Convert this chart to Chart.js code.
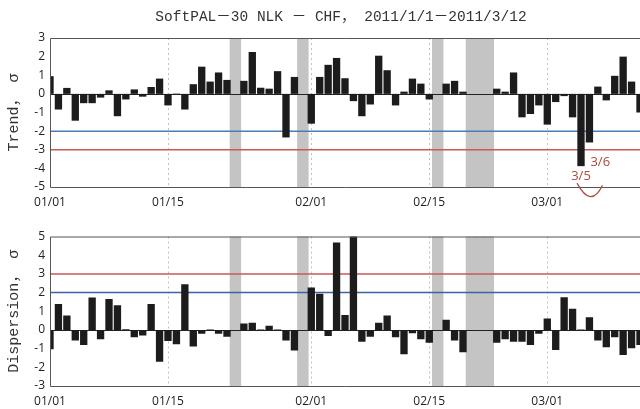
<!DOCTYPE html>
<html lang="en">
<head>
<meta charset="UTF-8">
<title>SoftPAL-30 NLK - CHF</title>
<script src="https://cdn.jsdelivr.net/npm/chart.js"></script>
<style>
    html, body { margin: 0; padding: 0; background: #fff; overflow: hidden; }
    #wrap { position: relative; width: 640px; height: 409px; overflow: hidden; }
    canvas { position: absolute; left: 0; }
    #trendChart { top: 0; }
    #dispChart { top: 211px; }
</style>
</head>
<body>
<div id="wrap">
    <canvas id="trendChart" width="648" height="211"></canvas>
    <canvas id="dispChart" width="648" height="198"></canvas>
</div>
<script>
    // day labels 2011/01/01 .. 2011/03/12
    const days = [];
    for (let i = 0; i < 71; i++) {
        const d = new Date(2011, 0, 1 + i);
        days.push(String(d.getMonth() + 1).padStart(2, '0') + '/' + String(d.getDate()).padStart(2, '0'));
    }
    const tickDays = ['01/01', '01/15', '02/01', '02/15', '03/01'];
    const missingDays = ['01/23', '01/31', '02/16', '02/20', '02/21', '02/22'];

    // Trend, sigma (null = no data)
    const trendValues = [
        0.95, -0.84, 0.32, -1.44, -0.5, -0.5, -0.2, 0.19, -1.2, -0.3,
        0.24, -0.15, 0.37, 0.82, -0.62, 0.02, -0.84, 0.52, 1.46, 0.66,
        1.15, 0.75, null, 0.7, 2.25, 0.33, 0.28, 1.22, -2.34, 0.91,
        null, -1.6, 0.91, 1.56, 1.93, 0.84, -0.39, -1.2, -0.57, 2.05,
        1.27, -0.62, 0.12, 0.82, 0.55, -0.3, null, 0.55, 0.7, 0.12,
        null, null, null, 0.28, 0.12, 1.15, -1.26, -1.08, -0.62, -1.65,
        -0.44, -0.12, -1.26, -3.88, -2.61, 0.39, -0.35, 0.97, 2.0, 0.66,
        -1.0
    ];
    // Dispersion, sigma
    const dispValues = [
        -1.04, 1.39, 0.77, -0.57, -0.8, 1.73, -0.5, 1.66, 1.32, 0.04,
        -0.39, -0.3, 1.39, -1.7, -0.59, -0.77, 2.45, -0.89, -0.21, 0.02,
        -0.21, -0.37, null, 0.34, 0.39, 0.02, 0.23, 0.02, -0.57, -1.1,
        null, 2.27, 1.93, -0.32, 4.68, 0.8, 5.3, -0.63, -0.36, 0.39,
        0.77, -0.39, -1.3, -0.18, -0.5, -0.68, null, 0.54, -0.57, -1.2,
        null, null, null, -0.68, -0.5, -0.63, -0.63, -0.8, -0.21, 0.61,
        -1.07, 1.75, 1.13, 0.02, 0.68, -0.57, -0.93, -0.39, -1.34, -0.98,
        -0.8
    ];

    const trendLines = [{ value: -2, color: '#4a7cba' }, { value: -3, color: '#c9585a' }];
    const dispLines = [{ value: 2, color: '#3f62a6' }, { value: 3, color: '#c9585a' }];
    const trendNotes = [{ day: '03/05', text: '3/5' }, { day: '03/06', text: '3/6' }];

    const monoFont = '"Liberation Mono", "DejaVu Sans Mono", "Noto Sans CJK SC", monospace';

    const decor = {
        id: 'decor',
        beforeDatasetsDraw(chart, args, opts) {
            const { ctx, chartArea: a, scales: { x, y } } = chart;
            const step = x.getPixelForValue(1) - x.getPixelForValue(0);
            ctx.save();
            // missing-data bands
            ctx.fillStyle = '#c4c4c4';
            missingDays.forEach(d => {
                const px = x.getPixelForValue(days.indexOf(d));
                ctx.fillRect(px - 0.68 * step, a.top, 1.36 * step, a.bottom - a.top);
            });
            // dotted date grid
            ctx.strokeStyle = '#c0c0c0';
            ctx.lineWidth = 1;
            ctx.setLineDash([2, 3]);
            tickDays.slice(1).forEach(d => {
                const px = Math.round(x.getPixelForValue(days.indexOf(d))) + 0.5;
                ctx.beginPath();
                ctx.moveTo(px, a.top);
                ctx.lineTo(px, a.bottom);
                ctx.stroke();
            });
            ctx.setLineDash([]);
            // threshold lines
            ctx.lineWidth = 1.5;
            opts.lines.forEach(l => {
                const py = y.getPixelForValue(l.value);
                ctx.strokeStyle = l.color;
                ctx.beginPath();
                ctx.moveTo(a.left, py);
                ctx.lineTo(a.right, py);
                ctx.stroke();
            });
            // zero line
            ctx.strokeStyle = '#222';
            ctx.lineWidth = 1;
            const z = Math.round(y.getPixelForValue(0)) + 0.5;
            ctx.beginPath();
            ctx.moveTo(a.left, z);
            ctx.lineTo(a.right, z);
            ctx.stroke();
            ctx.restore();
        },
        afterDraw(chart, args, opts) {
            const { ctx, chartArea: a, scales: { x, y } } = chart;
            ctx.save();
            // frame (left, top, bottom)
            ctx.strokeStyle = '#555';
            ctx.lineWidth = 1;
            ctx.beginPath();
            ctx.moveTo(a.right, a.top + 0.5);
            ctx.lineTo(a.left + 0.5, a.top + 0.5);
            ctx.lineTo(a.left + 0.5, a.bottom + 0.5);
            ctx.lineTo(a.right, a.bottom + 0.5);
            ctx.stroke();
            if (opts.title) {
                ctx.fillStyle = '#333';
                ctx.font = '14.5px ' + monoFont;
                ctx.textAlign = 'center';
                ctx.textBaseline = 'middle';
                ctx.fillText(opts.title, 341, 17);
            }
            if (opts.notes) {
                const c = '#a84a3e';
                ctx.fillStyle = c;
                ctx.strokeStyle = c;
                ctx.font = '13px "Open Sans", sans-serif';
                ctx.textBaseline = 'middle';
                const ds = chart.data.datasets[0].data;
                const i5 = days.indexOf(opts.notes[0].day);
                const i6 = days.indexOf(opts.notes[1].day);
                const x5 = x.getPixelForValue(i5), x6 = x.getPixelForValue(i6);
                const y5 = y.getPixelForValue(ds[i5]), y6 = y.getPixelForValue(ds[i6]);
                ctx.textAlign = 'center';
                ctx.fillText(opts.notes[0].text, x5, y5 + 10);
                ctx.textAlign = 'left';
                ctx.fillText(opts.notes[1].text, x6 + 1, y6 + 20);
                ctx.lineWidth = 1.2;
                ctx.beginPath();
                ctx.moveTo(x5 - 4, y5 + 17);
                ctx.quadraticCurveTo(x5 + 10, y5 + 43, x6 + 13, y5 + 19);
                ctx.stroke();
            }
            ctx.restore();
        }
    };

    function makePanel(id, values, yMin, yMax, yTitle, padTop, xHeight, decorOpts) {
        return new Chart(document.getElementById(id), {
            type: 'bar',
            data: {
                labels: days,
                datasets: [{
                    data: values,
                    backgroundColor: '#1c1c1c',
                    borderWidth: 0,
                    barPercentage: 0.87,
                    categoryPercentage: 1
                }]
            },
            options: {
                responsive: false,
                animation: false,
                devicePixelRatio: 1,
                layout: { padding: { top: padTop, left: 0, right: 0, bottom: 0 } },
                plugins: {
                    legend: { display: false },
                    tooltip: { enabled: false },
                    decor: decorOpts
                },
                scales: {
                    x: {
                        type: 'category',
                        offset: false,
                        grid: { display: false, drawTicks: false },
                        border: { display: false },
                        ticks: {
                            autoSkip: false,
                            maxRotation: 0,
                            padding: 8,
                            color: '#222',
                            font: { family: '"Open Sans", sans-serif', size: 12 },
                            callback: (v, i) => tickDays.includes(days[i]) ? days[i] : ''
                        },
                        afterFit: s => { s.height = xHeight; }
                    },
                    y: {
                        min: yMin,
                        max: yMax,
                        grid: { display: false, drawTicks: false },
                        border: { display: false },
                        ticks: {
                            stepSize: 1,
                            padding: 5,
                            color: '#222',
                            font: { family: '"Open Sans", sans-serif', size: 12 }
                        },
                        title: {
                            display: true,
                            text: yTitle,
                            color: '#333',
                            font: { family: monoFont, size: 15 },
                            padding: { top: 5, bottom: 0 }
                        },
                        afterFit: s => { s.width = 50; }
                    }
                }
            },
            plugins: [decor]
        });
    }

    makePanel('trendChart', trendValues, -5, 3, 'Trend， σ', 38, 24, {
        lines: trendLines,
        title: 'SoftPAL－30 NLK － CHF， 2011/1/1－2011/3/12',
        notes: trendNotes
    });
    makePanel('dispChart', dispValues, -3, 5, 'Dispersion， σ', 25.5, 23, {
        lines: dispLines
    });
</script>
</body>
</html>
